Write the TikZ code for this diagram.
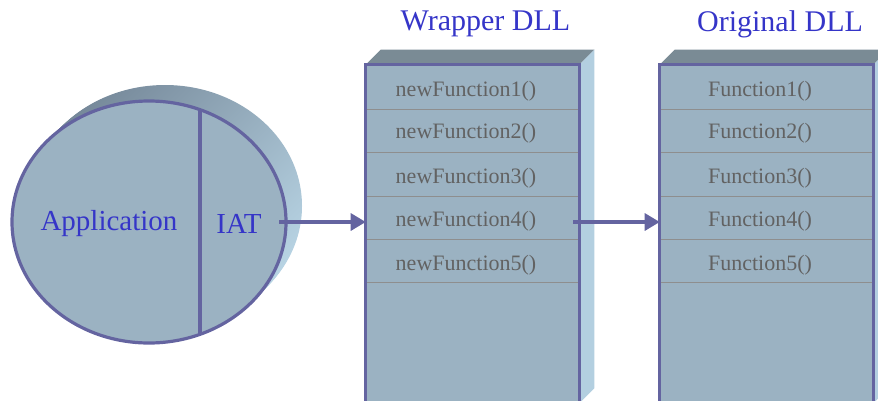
\documentclass[tikz,border=0pt]{standalone}
\usepackage{fontspec}
\setmainfont{Liberation Serif}
\newfontfamily\timesface{Liberation Serif}
\usetikzlibrary{arrows.meta,shapes.geometric,calc}

\definecolor{frontfill}{HTML}{9BB2C2}
\definecolor{topface}{HTML}{7A8B95}
\definecolor{sideface}{HTML}{B3CFE0}
\definecolor{shadowdark}{HTML}{76899A}
\definecolor{shadowlight}{HTML}{B8D4E4}
\definecolor{edgeblue}{HTML}{6464A0}
\definecolor{rowline}{HTML}{8E8E8E}
\definecolor{titleblue}{HTML}{3535C8}
\definecolor{fntgrey}{HTML}{626262}

\pgfdeclarelayer{background}
\pgfsetlayers{background,main}

\begin{document}
\begin{tikzpicture}[x=0.75pt,y=-0.75pt,
  edge/.style={draw=edgeblue,line width=2.4pt},
  dllbox/.style={rectangle,fill=frontfill,draw=none,inner sep=0pt,
    minimum width=159.75pt,minimum height=253.5pt},
  appshape/.style={ellipse,fill=frontfill,edge,inner sep=0pt,
    minimum width=205.5pt,minimum height=181.5pt},
  title/.style={text=titleblue,font=\timesface\fontsize{22.5pt}{26pt}\selectfont},
  applabel/.style={text=titleblue,font=\timesface\fontsize{21.75pt}{25pt}\selectfont},
  fnlabel/.style={text=fntgrey,font=\timesface\fontsize{16.5pt}{19pt}\selectfont},
  rowsep/.style={draw=rowline,line width=0.6pt},
  arrowline/.style={draw=edgeblue,line width=2.4pt,
    -{Triangle[length=11.25pt,width=12.75pt]}},
  topfacestyle/.style={fill=topface},
  sidefacestyle/.style={fill=sideface},
  shadowstyle/.style={shading=axis,top color=shadowdark,bottom color=shadowlight,
    shading angle=45}
]
\clip (0,0) rectangle (878,400);

% extruded back of the application ellipse
\begin{pgfonlayer}{background}
  \foreach \i in {1,...,16}
    \path[shadowstyle] (149+\i,222-\i) ellipse [x radius=137, y radius=121];
\end{pgfonlayer}

% application with its import address table
\node[appshape] (app) at (149,222) {};
\draw[edge] ($(app.center)+(51,-112)$) -- ($(app.center)+(51,112)$);
\node[applabel] (applbl) at (109,224) {Application};
\node[applabel,inner xsep=12pt] (iat) at (239,224) {IAT};

% the two DLL blocks
\node[dllbox] (wrap) at (472.5,234) {};
\node[dllbox] (orig) at (766.5,234) {};

\begin{pgfonlayer}{background}
  \foreach \b in {wrap,orig}{
    \path[topfacestyle] (\b.north west) -- ++(15,-15)
      -- ($(\b.north east)+(15,-15)$) -- (\b.north east) -- cycle;
    \path[sidefacestyle] (\b.north east) -- ++(15,-15)
      -- ($(\b.south east)+(15,-15)$) -- (\b.south east) -- cycle;
  }
\end{pgfonlayer}

\foreach \b in {wrap,orig}{
  \foreach \y in {109,152,196,239,282}
    \draw[rowsep] (\b.west |- 0,\y) -- (\b.east |- 0,\y);
  \draw[edge] (\b.south west) rectangle (\b.north east);
}

% titles
\node[title] (wraptitle) at (485.5,24) {Wrapper DLL};
\node[title] (origtitle) at (780,24) {Original DLL};

% function rows
\foreach \n/\y in {1/91,2/133,3/178,4/221,5/265}{
  \node[fnlabel] (w\n) at (466,\y) {newFunction\n()};
  \node[fnlabel] (o\n) at (760,\y) {Function\n()};
}

% call redirection
\coordinate (iatout) at (279,222);
\draw[arrowline] (iatout) -- (iatout -| wrap.west);
\coordinate (w4out) at (573,222);
\draw[arrowline] (w4out) -- (w4out -| orig.west);
\end{tikzpicture}
\end{document}
